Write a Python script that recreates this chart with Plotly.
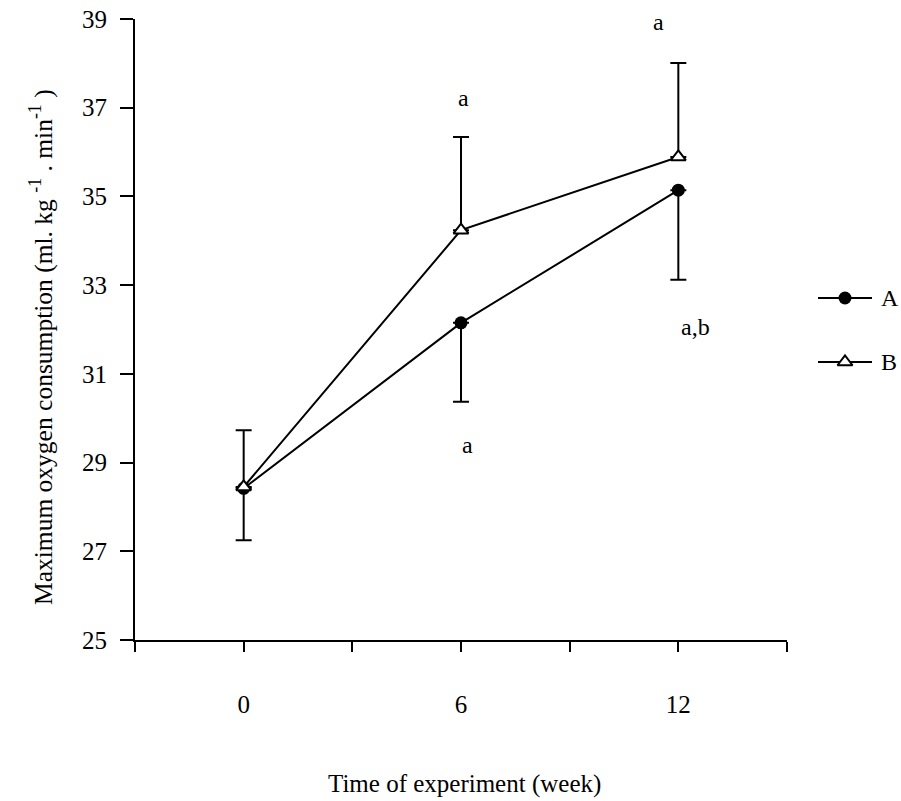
import plotly.graph_objects as go

# Weeks of the training experiment
weeks = [0, 6, 12]

# Group A: mean VO2max and its lower error bar
group_a = [28.42, 32.15, 35.14]
group_a_err_down = [1.17, 1.78, 2.02]

# Group B: mean VO2max and its upper error bar
group_b = [28.45, 34.24, 35.89]
group_b_err_up = [1.28, 2.10, 2.12]

# Significance letters (x, y, text)
sig_x = [6.06, 11.44, 12.46, 6.19]
sig_y = [37.22, 38.93, 32.06, 29.40]
sig_text = ["a", "a", "a,b", "a"]

# Axis ticks
x_tickvals = [-3, 0, 3, 6, 9, 12, 15]
x_ticktext = ["", "0", "", "6", "", "12", ""]
y_tickvals = [25, 27, 29, 31, 33, 35, 37, 39]

# Legend entries
legend_names = ["A", "B"]

FONT = "Liberation Serif, Times New Roman, serif"
W, H = 901, 801

fig = go.Figure()

fig.add_trace(go.Scatter(
    x=weeks, y=group_a, mode="lines+markers", showlegend=False,
    line=dict(color="black", width=2),
    marker=dict(symbol="circle", size=13, color="black"),
    error_y=dict(type="data", symmetric=False,
                 array=[0] * len(weeks), arrayminus=group_a_err_down,
                 color="black", thickness=2, width=8),
    xaxis="x", yaxis="y",
))

fig.add_trace(go.Scatter(
    x=weeks, y=group_b, mode="lines+markers", showlegend=False,
    line=dict(color="black", width=2),
    marker=dict(symbol="triangle-up", size=13, color="white",
                line=dict(color="black", width=2)),
    error_y=dict(type="data", symmetric=False,
                 array=group_b_err_up, arrayminus=[0] * len(weeks),
                 color="black", thickness=2, width=8),
    xaxis="x", yaxis="y",
))

# Hand-built legend on its own small axes
legend_symbols = [
    dict(symbol="circle", size=13, color="black"),
    dict(symbol="triangle-up", size=13, color="white", line=dict(color="black", width=2)),
]
for i, (name, sym) in enumerate(zip(legend_names, legend_symbols)):
    row = i + 0.5
    fig.add_trace(go.Scatter(
        x=[0, 1], y=[row, row], mode="lines", showlegend=False,
        line=dict(color="black", width=2), xaxis="x2", yaxis="y2",
        hoverinfo="skip",
    ))
    fig.add_trace(go.Scatter(
        x=[0.5], y=[row], mode="markers", showlegend=False,
        marker=sym, xaxis="x2", yaxis="y2", hoverinfo="skip",
    ))
    fig.add_annotation(
        x=1, y=row, xref="x2", yref="y2", text=name, showarrow=False,
        xanchor="left", yanchor="middle", xshift=7,
        font=dict(family=FONT, size=24, color="black"),
    )

for sx, sy, st in zip(sig_x, sig_y, sig_text):
    fig.add_annotation(
        x=sx, y=sy, xref="x", yref="y", text=st, showarrow=False,
        font=dict(family=FONT, size=24, color="black"),
    )

# Axis titles
fig.add_annotation(
    x=465 / W, y=1 - 784 / H, xref="paper", yref="paper",
    text="Time of experiment (week)", showarrow=False,
    xanchor="center", yanchor="middle",
    font=dict(family=FONT, size=25, color="black"),
)
fig.add_annotation(
    x=42 / W, y=1 - 347 / H, xref="paper", yref="paper",
    text="Maximum oxygen consumption (ml. kg <sup>-1</sup> . min<sup>-1</sup> )",
    showarrow=False, textangle=-90, xanchor="center", yanchor="middle",
    font=dict(family=FONT, size=25.5, color="black"),
)

fig.update_layout(
    width=W, height=H, autosize=False,
    margin=dict(l=0, r=0, t=0, b=0, pad=0, autoexpand=False),
    paper_bgcolor="white", plot_bgcolor="white",
    font=dict(family=FONT, color="black"),
    showlegend=False,
    xaxis=dict(
        domain=[135 / W, 787 / W], range=[-3, 15],
        tickmode="array", tickvals=x_tickvals, ticktext=x_ticktext,
        showline=True, linecolor="black", linewidth=2,
        ticks="outside", ticklen=10, tickwidth=2, tickcolor="black",
        ticklabelstandoff=31,
        tickfont=dict(family=FONT, size=25, color="black"),
        showgrid=False, zeroline=False, anchor="y", automargin=False,
    ),
    yaxis=dict(
        domain=[1 - 640 / H, 1 - 19 / H], range=[25, 39],
        tickmode="array", tickvals=y_tickvals,
        showline=True, linecolor="black", linewidth=2,
        ticks="outside", ticklen=13, tickwidth=2, tickcolor="black",
        ticklabelstandoff=8,
        tickfont=dict(family=FONT, size=25, color="black"),
        showgrid=False, zeroline=False, anchor="x", automargin=False,
    ),
    xaxis2=dict(
        domain=[818 / W, 872 / W], range=[0, 1], visible=False,
        anchor="y2", fixedrange=True,
    ),
    yaxis2=dict(
        domain=[1 - 394 / H, 1 - 266 / H], range=[2, 0], visible=False,
        anchor="x2", fixedrange=True,
    ),
)

fig.write_html("out.html")
